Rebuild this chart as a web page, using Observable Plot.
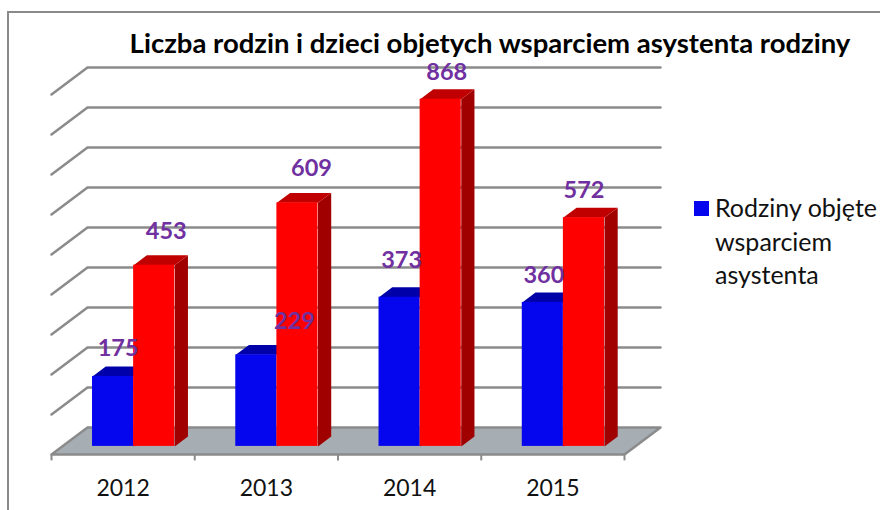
<!DOCTYPE html>
<html lang="pl">
<head>
<meta charset="utf-8">
<script src="https://cdn.jsdelivr.net/npm/d3@7"></script>
<script src="https://cdn.jsdelivr.net/npm/@observablehq/plot@0.6"></script>
<style>
html,body{margin:0;padding:0;background:#fff;}
#wrap{position:relative;width:880px;height:510px;overflow:hidden;font-family:Lato,"Open Sans",sans-serif;}
#frame{position:absolute;left:7px;top:11px;width:900px;height:600px;border:2px solid #8a8a8a;box-sizing:border-box;}
#title{position:absolute;left:0;top:25px;width:980px;text-align:center;font-weight:700;font-size:27.5px;line-height:36px;color:#000;white-space:nowrap;}
#legend{position:absolute;left:694px;top:191px;font-size:25px;line-height:33.5px;color:#111;}
#legend .sw{position:absolute;left:0;top:10px;width:15px;height:15px;background:#0505ee;}
#legend .tx{margin-left:21px;white-space:nowrap;}
#chart{position:absolute;left:0;top:0;}
</style>
</head>
<body>
<div id="wrap">
  <div id="chart"></div>
  <div id="frame"></div>
  <div id="title">Liczba rodzin i dzieci objetych wsparciem asystenta rodziny</div>
  <div id="legend"><span class="sw"></span><div class="tx">Rodziny objęte<br>wsparciem<br>asystenta</div></div>
</div>
<script>
const years = [2012, 2013, 2014, 2015];
const rodziny = [175, 229, 373, 360];
const dzieci = [453, 609, 868, 572];
const gridLevels = [100, 200, 300, 400, 500, 600, 700, 800, 900];
const categoryEdges = [0, 1, 2, 3, 4];
const categoryCentres = [0.5, 1.5, 2.5, 3.5];
const labelNudges = {
  rodziny: [[5, -28], [38, -33], [2, -37], [1, -27]],
  dzieci: [[12, -34], [14, -34], [6, -27], [0, -27]]
};

// Oblique projection of the 3D box, expressed in data units
const DX = 0.2513, DY = 67.5;          // full floor depth
const FRONT = 0.3, BACK = 0.667;       // depth of the bars on the floor
const GAP = 0.211, BAR = 0.287;        // bar layout inside a category
const at = (cat, value, depth, id) => ({x: cat + depth * DX, y: value + depth * DY, id});

const GREY = "#8b8b8b";
const grid = gridLevels.flatMap(v => [at(0, v, 0, v), at(0, v, 1, v), at(4, v, 1, v)]);
const floor = [at(0, 0, 0), at(0, 0, 1), at(4, 0, 1), at(4, 0, 0)];

function barMarks(values, s, front, top, side) {
  const left = i => i + GAP + s * BAR;
  const sides = values.flatMap((v, i) => {
    const r = left(i) + BAR;
    return [at(r, 0, FRONT, i), at(r, 0, BACK, i), at(r, v, BACK, i), at(r, v, FRONT, i)];
  });
  const tops = values.flatMap((v, i) => {
    const l = left(i), r = l + BAR;
    return [at(l, v, FRONT, i), at(l, v, BACK, i), at(r, v, BACK, i), at(r, v, FRONT, i)];
  });
  return [
    Plot.line(sides, {x: "x", y: "y", z: "id", fill: side, stroke: null, curve: "linear-closed"}),
    Plot.line(tops, {x: "x", y: "y", z: "id", fill: top, stroke: null, curve: "linear-closed"}),
    Plot.rect(values, {
      x1: (v, i) => at(left(i), 0, FRONT).x,
      x2: (v, i) => at(left(i) + BAR, 0, FRONT).x,
      y1: at(0, 0, FRONT).y,
      y2: v => at(0, v, FRONT).y,
      fill: front
    })
  ];
}

function labelMarks(values, s, nudges) {
  return values.map((v, i) => {
    const p = at(i + GAP + s * BAR + BAR / 2, v, FRONT);
    return Plot.text([p], {
      x: "x", y: "y", text: () => String(v), dx: nudges[i][0], dy: nudges[i][1],
      fill: "#7030a0", fontSize: 23.5, fontWeight: 700
    });
  });
}

const chart = Plot.plot({
  width: 880, height: 510,
  marginLeft: 51, marginRight: 256, marginTop: 94, marginBottom: 56,
  style: {fontFamily: "Lato, 'Open Sans', sans-serif", background: "#fff", overflow: "visible"},
  x: {domain: [0, 4]},
  y: {domain: [0, 900], axis: null},
  marks: [
    Plot.line(grid, {x: "x", y: "y", z: "id", stroke: GREY, strokeWidth: 2.5}),
    Plot.line(floor, {x: "x", y: "y", fill: "#a6adb3", stroke: GREY, strokeWidth: 2.5, curve: "linear-closed"}),
    Plot.ruleX(categoryEdges, {x: d => d, y1: 0, y2: -16, stroke: GREY, strokeWidth: 2}),
    ...barMarks(rodziny, 0, "#0505ee", "#0000a8", "#00009a"),
    ...barMarks(dzieci, 1, "#ff0000", "#c00000", "#a00000"),
    ...labelMarks(rodziny, 0, labelNudges.rodziny),
    ...labelMarks(dzieci, 1, labelNudges.dzieci),
    Plot.axisX(categoryCentres, {
      tickFormat: d => String(years[Math.floor(d)]),
      tickSize: 0, tickPadding: 25, fontSize: 23, label: null, fill: "#111"
    })
  ]
});
document.getElementById("chart").appendChild(chart);
</script>
</body>
</html>
